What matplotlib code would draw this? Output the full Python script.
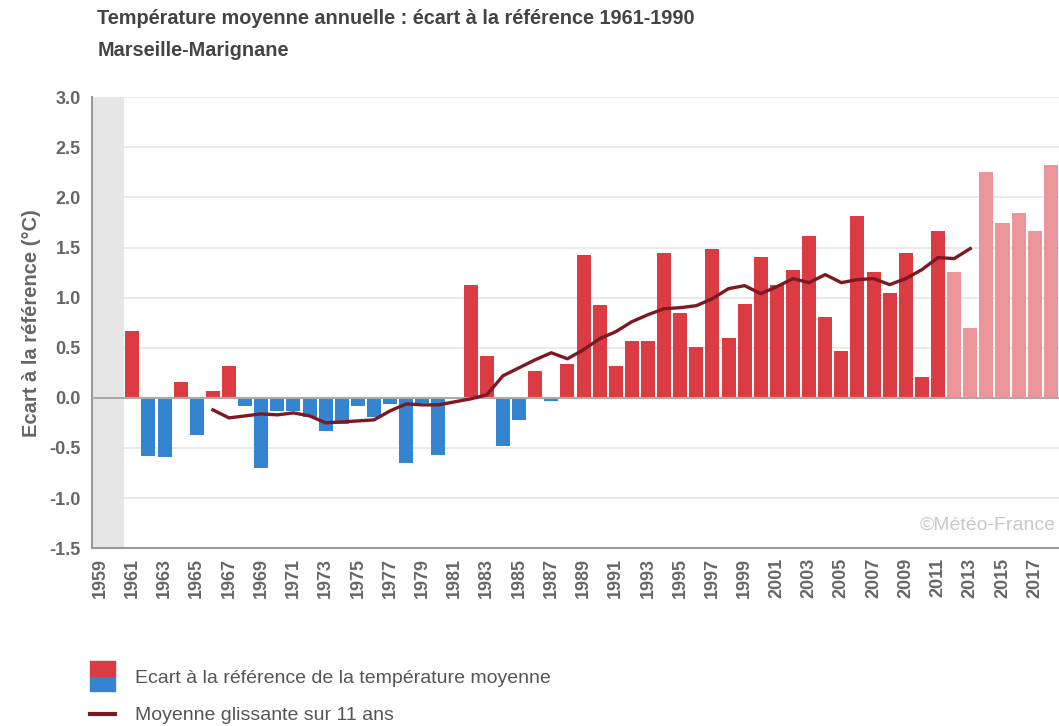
import numpy as np
import matplotlib
matplotlib.use("Agg")
import matplotlib.pyplot as plt
from matplotlib.patches import Rectangle
from matplotlib.lines import Line2D

plt.rcParams['font.family'] = ['Liberation Sans', 'DejaVu Sans']

years = np.arange(1959, 2019)
# ecarts annuels (None = pas de donnee)
ecart = [None, None,
         0.67, -0.58, -0.59, 0.16, -0.37, 0.07, 0.32, -0.08, -0.70, -0.13,
         -0.13, -0.19, -0.33, -0.26, -0.08, -0.19, -0.06, -0.65, -0.05, -0.57,
         0.01, 1.13, 0.42, -0.48, -0.22, 0.27, -0.03, 0.34, 1.43, 0.93,
         0.32, 0.57, 0.57, 1.45, 0.85, 0.51, 1.49, 0.60, 0.94, 1.41,
         1.13, 1.28, 1.62, 0.81, 0.47, 1.82, 1.26, 1.05, 1.45, 0.21,
         1.67, 1.26, 0.70, 2.25, 1.75, 1.85, 1.67, 2.32]
# moyenne glissante 11 ans, 1966-2013
mg_years = np.arange(1966, 2014)
mg = [-0.12, -0.20, -0.18, -0.16, -0.17, -0.15, -0.18, -0.25, -0.24, -0.23,
      -0.22, -0.13, -0.06, -0.07, -0.07, -0.04, -0.01, 0.03, 0.22, 0.30,
      0.38, 0.45, 0.39, 0.48, 0.59, 0.66, 0.76, 0.83, 0.89, 0.90,
      0.92, 0.99, 1.09, 1.12, 1.04, 1.11, 1.19, 1.15, 1.23, 1.15,
      1.18, 1.19, 1.13, 1.19, 1.28, 1.40, 1.39, 1.49]
last_validated = 2011

RED = '#db3b43'
BLUE = '#3484d0'
PINK = '#eb9499'
LINE = '#7b1a22'
GRAY = '#666666'

fig = plt.figure(figsize=(10.59, 7.26), dpi=100)
ax = fig.add_axes([0.0869, 0.245, 0.913, 0.621])

x = np.arange(len(years))
vals = np.array([np.nan if v is None else v for v in ecart])
colors = []
for y, v in zip(years, vals):
    if y > last_validated:
        colors.append(PINK)
    elif v >= 0:
        colors.append(RED)
    else:
        colors.append(BLUE)
ax.bar(x, np.nan_to_num(vals), width=0.87, color=colors, zorder=3)

mg_x = mg_years - years[0]
ax.plot(mg_x, mg, color=LINE, lw=2.4, zorder=4)

ax.axvspan(-0.5, 1.5, color='#e6e6e6', zorder=1, lw=0)
ax.axhline(0, color='#aaaaaa', lw=1.5, zorder=3.5)

ax.set_xlim(-0.5, len(years) - 0.5)
ax.set_ylim(-1.5, 3.0)
yt = np.arange(-1.5, 3.01, 0.5)
ax.set_yticks(yt)
ax.set_yticklabels(['%.1f' % t for t in yt], fontsize=13, fontweight='bold', color=GRAY)
ax.set_xticks(x[::2])
ax.set_xticklabels([str(y) for y in years[::2]], rotation=90, fontsize=13,
                   fontweight='bold', color=GRAY)
ax.tick_params(axis='y', length=0, pad=8)
ax.tick_params(axis='x', length=0, pad=7)
ax.grid(axis='y', color='#e6e6e6', lw=1.2, zorder=0)
for s in ['top', 'right']:
    ax.spines[s].set_visible(False)
for s in ['left', 'bottom']:
    ax.spines[s].set_color('#999999')
    ax.spines[s].set_linewidth(1.5)
ax.set_ylabel('Ecart à la référence (°C)', fontsize=14.5, fontweight='bold', color=GRAY,
              labelpad=6)

ax.text(0.997, 0.05, '©Météo-France', transform=ax.transAxes, ha='right', va='center',
        fontsize=14, color='#c8c8c8')

fig.text(0.092, 0.975, 'Température moyenne annuelle : écart à la référence 1961-1990',
         fontsize=14.3, fontweight='bold', color='#444444', va='center')
fig.text(0.092, 0.93, 'Marseille-Marignane', fontsize=14.3, fontweight='bold',
         color='#444444', va='center')

# legende
fig.patches.append(Rectangle((0.085, 0.048), 0.024, 0.0207, transform=fig.transFigure,
                             color=BLUE))
fig.patches.append(Rectangle((0.085, 0.0687), 0.024, 0.0207, transform=fig.transFigure,
                             color=RED))
fig.text(0.1275, 0.066, 'Ecart à la référence de la température moyenne', fontsize=14,
         color='#555555', va='center')
fig.lines.append(Line2D([0.085, 0.109], [0.016, 0.016], transform=fig.transFigure,
                        color=LINE, lw=3))
fig.text(0.1275, 0.014, 'Moyenne glissante sur 11 ans', fontsize=14, color='#555555',
         va='center')

fig.savefig('out.png', dpi=100)
